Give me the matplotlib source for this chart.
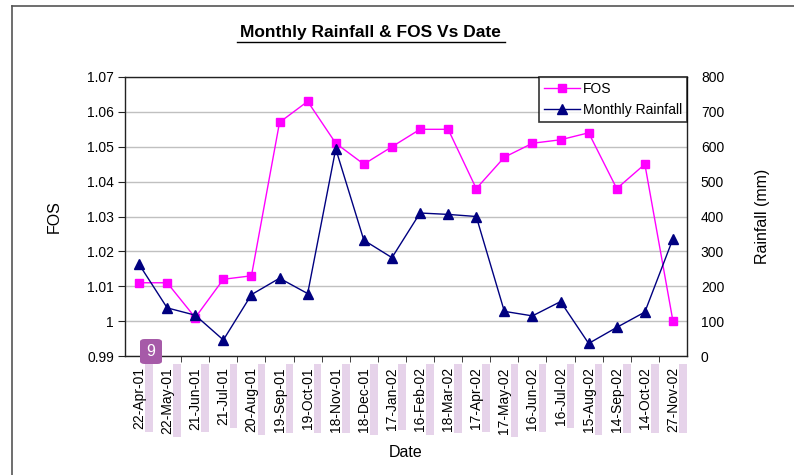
import matplotlib
matplotlib.use("Agg")
import matplotlib.pyplot as plt
import matplotlib.transforms as mtransforms
from matplotlib.patches import Rectangle, FancyBboxPatch
from matplotlib.lines import Line2D

plt.rcParams["font.family"] = ["Liberation Sans", "DejaVu Sans"]

dates = ["22-Apr-01", "22-May-01", "21-Jun-01", "21-Jul-01", "20-Aug-01",
         "19-Sep-01", "19-Oct-01", "18-Nov-01", "18-Dec-01", "17-Jan-02",
         "16-Feb-02", "18-Mar-02", "17-Apr-02", "17-May-02", "16-Jun-02",
         "16-Jul-02", "15-Aug-02", "14-Sep-02", "14-Oct-02", "27-Nov-02"]
fos = [1.011, 1.011, 1.001, 1.012, 1.013, 1.057, 1.063, 1.051, 1.045, 1.050,
       1.055, 1.055, 1.038, 1.047, 1.051, 1.052, 1.054, 1.038, 1.045, 1.000]
rainfall = [263, 138, 117, 46, 176, 223, 179, 594, 332, 282,
            410, 406, 400, 128, 115, 156, 36, 82, 126, 336]
fos_ticks = [0.99, 1.0, 1.01, 1.02, 1.03, 1.04, 1.05, 1.06, 1.07]
fos_ticklabels = ["0.99", "1", "1.01", "1.02", "1.03", "1.04", "1.05", "1.06", "1.07"]
rain_ticks = [0, 100, 200, 300, 400, 500, 600, 700, 800]
# bottom of the lavender highlight strips next to each date label (pixels from top)
strip_bottom = [432, 437, 432, 428, 435, 433, 433, 433, 435, 430,
                435, 433, 432, 437, 432, 428, 435, 433, 433, 433]

W, H = 794, 475
fig = plt.figure(figsize=(W / 100, H / 100), dpi=100)
fig.patch.set_facecolor("white")

left, right, top, bottom = 125, 687, 77, 356
ax = fig.add_axes([left / W, 1 - bottom / H, (right - left) / W, (bottom - top) / H])
x = list(range(len(dates)))

ax.set_xlim(-0.5, len(dates) - 0.5)
ax.set_ylim(0.99, 1.07)
ax.set_yticks(fos_ticks)
ax.set_yticklabels(fos_ticklabels)
ax.yaxis.grid(True, color="#c0c0c0", linewidth=1.0)
ax.set_axisbelow(True)
for s in ax.spines.values():
    s.set_color("#222222")
    s.set_linewidth(1.0)

ax.set_xticks(x)
ax.set_xticklabels(dates, rotation=90, fontsize=10)
ax.set_xticks([i + 0.5 for i in x[:-1]], minor=True)
ax.tick_params(axis="x", which="major", length=0, pad=8)
ax.tick_params(axis="x", which="minor", length=4, direction="out", color="#222222")
ax.tick_params(axis="y", length=5, labelsize=10, color="#222222", pad=3)

ax2 = ax.twinx()
ax2.set_ylim(0, 800)
ax2.set_yticks(rain_ticks)
ax2.tick_params(axis="y", length=0, labelsize=10, pad=10)
for s in ax2.spines.values():
    s.set_visible(False)

l1, = ax.plot(x, fos, color="#ff00ff", marker="s", markersize=5.5, linewidth=1.0,
              label="FOS", zorder=3)
l2, = ax2.plot(x, rainfall, color="#000080", marker="^", markersize=6.5, linewidth=1.0,
               label="Monthly Rainfall", zorder=3)

leg = ax2.legend(handles=[l1, l2], loc="upper right", bbox_to_anchor=(1.0, 1.0),
                 fontsize=10, frameon=True, fancybox=False, borderaxespad=0,
                 handlelength=2.6, handletextpad=0.2, borderpad=0.35, labelspacing=0.5)
leg.get_frame().set_edgecolor("black")
leg.get_frame().set_linewidth(1.2)

ax.set_ylabel("FOS", fontsize=11.5, labelpad=18)
ax2.set_ylabel("Rainfall (mm)", fontsize=11.5, labelpad=22)
ax.set_xlabel("Date", fontsize=11.5, labelpad=8)

fig.text(370 / W, 1 - 33 / H, "Monthly Rainfall & FOS Vs Date", ha="center", va="center",
         fontsize=12.5, fontweight="bold")
fig.add_artist(Line2D([237 / W, 505 / W], [1 - 42 / H, 1 - 42 / H], color="black", linewidth=1.0))

# outer frame (top and left edges visible)
fig.add_artist(Line2D([12 / W, 12 / W], [0, 1 - 6 / H], color="#555555", linewidth=1.2))
fig.add_artist(Line2D([12 / W, 1], [1 - 6 / H, 1 - 6 / H], color="#555555", linewidth=1.2))

# lavender highlight strips beside the date labels
trans = mtransforms.blended_transform_factory(ax.transData, fig.transFigure)
for i, yb in enumerate(strip_bottom):
    fig.add_artist(Rectangle((i + 0.22, 1 - yb / H), 0.27, (yb - 364) / H, transform=trans,
                             facecolor="#e6d3ea", edgecolor="none", zorder=0))

# badge
fig.add_artist(FancyBboxPatch((140 / W, 1 - 364 / H), 22 / W, 25 / H,
                              boxstyle="round,pad=0,rounding_size=0.006",
                              facecolor="#a65aa8", edgecolor="none", zorder=5))
fig.text(151 / W, 1 - 352 / H, "9", color="white", ha="center", va="center",
         fontsize=11.5, zorder=6)

fig.savefig("out.png", dpi=100)
